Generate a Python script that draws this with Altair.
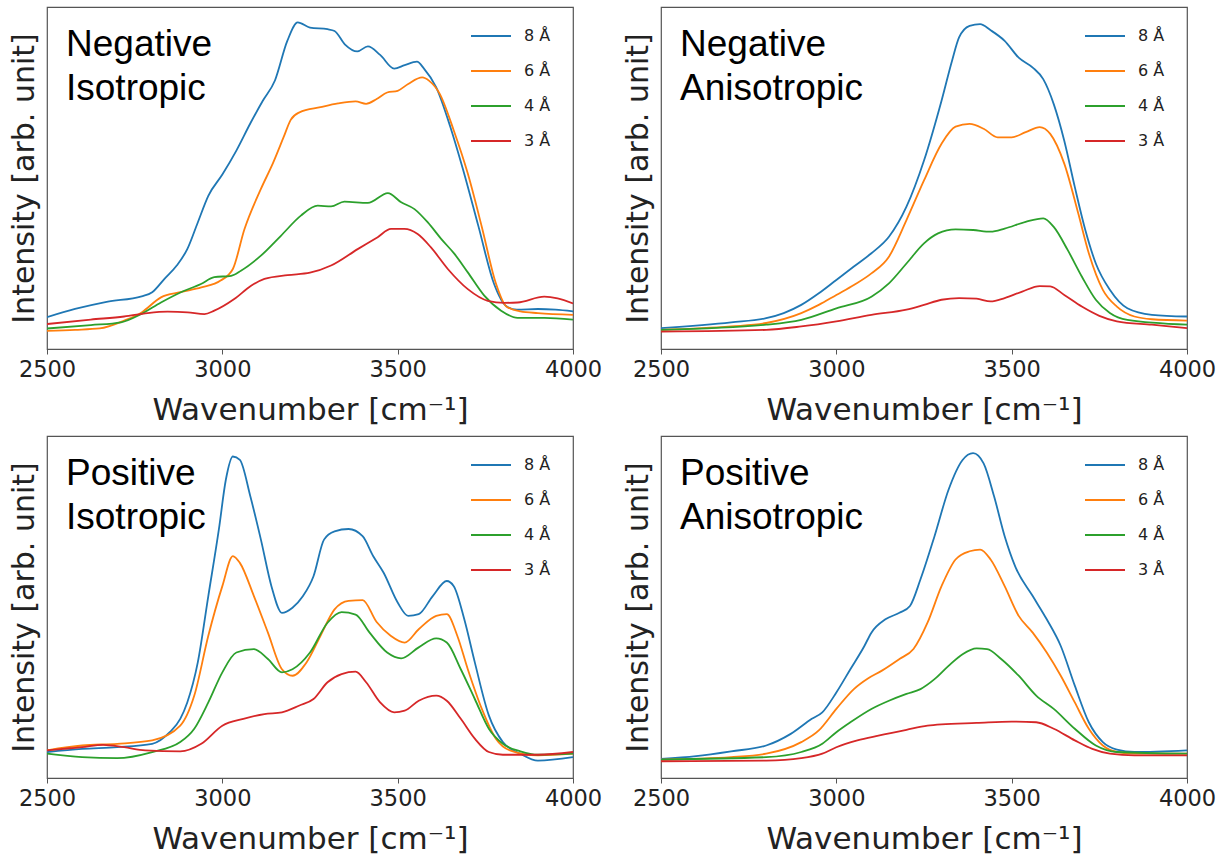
import altair as alt
import pandas as pd

SERIES = ["8 Å", "6 Å", "4 Å", "3 Å"]
COLORS = ["#1f77b4", "#ff7f0e", "#2ca02c", "#d62728"]
PANEL_LABELS = ["Negative\nIsotropic", "Negative\nAnisotropic",
                "Positive\nIsotropic", "Positive\nAnisotropic"]
X_TICKS = [2500, 3000, 3500, 4000]

# ---- Negative, isotropic ----
ni_8_x = [2500, 2580, 2670, 2770, 2800, 2835, 2870, 2900, 2930, 2960, 3000, 3040, 3080, 3115, 3150,
          3185, 3215, 3250, 3300, 3320, 3350, 3385, 3415, 3450, 3490, 3520, 3555, 3575, 3610, 3650,
          3685, 3730, 3775, 3810, 3840, 3900, 3950, 4000]
ni_8_y = [9.3, 11.7, 13.8, 15.4, 16.6, 20.5, 24.4, 29.2, 37, 44.8, 51, 58, 66, 72.5, 78.5,
          90, 95.5, 94, 93.5, 93, 89, 87, 88.5, 86, 82, 83, 84, 82, 76.5, 65,
          53, 36, 19, 12.5, 11.5, 11.7, 11.5, 11]
ni_6_x = [2500, 2580, 2650, 2720, 2770, 2825, 2880, 2940, 2995, 3030, 3063, 3110, 3145, 3175, 3195,
          3220, 3280, 3330, 3380, 3410, 3440, 3470, 3500, 3530, 3570, 3590, 3620, 3660, 3700, 3740,
          3780, 3810, 3850, 3900, 4000]
ni_6_y = [5.3, 5.6, 6.0, 8.3, 10.7, 15.1, 16.6, 18, 20, 23.4, 35, 46.8, 54.5, 62, 67,
          69.2, 70.7, 71.8, 72.4, 71.7, 73.1, 75, 75.5, 77.5, 79.4, 78.4, 74.6, 63.9, 51.3, 35.7,
          19.2, 12.4, 11, 10.5, 10]
ni_4_x = [2500, 2625, 2711, 2768, 2825, 2882, 2939, 2977, 3025, 3053, 3110, 3167, 3224, 3272, 3310,
          3348, 3415, 3472, 3510, 3548, 3586, 3624, 3662, 3700, 3747, 3795, 3842, 3918, 4000]
ni_4_y = [6.0, 7.0, 7.8, 10.2, 13.6, 16.6, 19, 21, 21.4, 22.9, 27.3, 33.1, 39, 41.9, 41.7,
          43.1, 42.7, 45.6, 42.9, 40.9, 37, 32.2, 27.8, 22.4, 15.6, 11.2, 9.1, 9.1, 8.6]
ni_3_x = [2500, 2625, 2720, 2787, 2844, 2901, 2949, 2977, 3034, 3082, 3120, 3186, 3250, 3310, 3386,
          3443, 3481, 3519, 3557, 3595, 3643, 3700, 3757, 3804, 3842, 3918, 3956, 4000]
ni_3_y = [7.3, 8.6, 9.5, 10.5, 10.9, 10.7, 10.2, 11.2, 14.6, 18.5, 20.5, 21.6, 22.3, 24.4, 29.2,
          32.7, 35.1, 35.1, 33.6, 29.7, 23.4, 17.5, 14.1, 13.5, 13.6, 15.3, 14.8, 13.3]

# ---- Negative, anisotropic ----
na_8_x = [2500, 2700, 2800, 2850, 2900, 2950, 3000, 3050, 3100, 3150, 3200, 3250, 3300, 3330, 3350,
          3380, 3410, 3440, 3480, 3520, 3560, 3590, 3620, 3650, 3680, 3710, 3740, 3780, 3830, 3900, 4000]
na_8_y = [6.1, 7.8, 9.0, 10.5, 12.9, 16.3, 20.2, 24.1, 28, 32.8, 41.6, 55.1, 72.6, 84.3, 91.1,
          94.5, 95, 93.2, 90.1, 85.2, 82.3, 78.9, 71.6, 60.9, 47.4, 34.8, 25, 17.3, 11.9, 10, 9.5]
na_6_x = [2500, 2700, 2800, 2900, 2950, 3000, 3050, 3100, 3150, 3200, 3250, 3300, 3340, 3380, 3420,
          3460, 3500, 3540, 3580, 3610, 3650, 3690, 3720, 3760, 3800, 3850, 3900, 4000]
na_6_y = [5.6, 6.6, 7.6, 10.5, 12.9, 15.8, 18.7, 22.1, 27, 37.7, 49.3, 60, 65, 65.8, 64.4,
          61.9, 61.9, 63.4, 64.9, 62.9, 54.2, 39.6, 28, 17.3, 12.4, 9.5, 8.7, 8.3]
na_4_x = [2500, 2800, 2900, 3000, 3100, 3150, 3200, 3250, 3290, 3340, 3390, 3440, 3480, 3540, 3590,
          3620, 3660, 3700, 3740, 3780, 3830, 4000]
na_4_y = [5.6, 7.1, 8.5, 11.9, 15.3, 19.2, 25, 30.9, 33.8, 35, 34.8, 34.3, 35.2, 37.2, 38.2,
          35.7, 28.9, 21.2, 14.4, 10.5, 8.5, 7.1]
na_3_x = [2500, 2800, 2900, 3000, 3100, 3200, 3250, 3300, 3350, 3400, 3440, 3480, 3530, 3580, 3610,
          3650, 3700, 3750, 3800, 3900, 4000]
na_3_y = [5.1, 5.6, 6.6, 8.1, 10, 11.5, 12.9, 14.4, 14.9, 14.7, 13.9, 14.9, 16.8, 18.4, 18.3,
          15.8, 12.4, 9.7, 8.1, 7.1, 6.1]

# ---- Positive, isotropic ----
pi_8_x = [2500, 2600, 2700, 2800, 2850, 2880, 2900, 2930, 2960, 2990, 3010, 3030, 3050, 3080, 3110,
          3140, 3170, 3200, 3230, 3260, 3290, 3320, 3360, 3400, 3430, 3460, 3500, 3530, 3560, 3600,
          3640, 3660, 3690, 3720, 3760, 3800, 3850, 3900, 4000]
pi_8_y = [7.6, 8.5, 9.0, 10, 13.4, 17.3, 22.1, 33.8, 53.2, 72.6, 87.2, 94, 93, 82.3, 69.7,
          56.1, 48.3, 49.8, 53.2, 59, 69.7, 72.1, 72.8, 70.7, 64.9, 60, 51.3, 47.4, 47.9, 53.2,
          57.6, 56.1, 46.4, 33.8, 18.3, 10.5, 7.1, 5.1, 6.1]
pi_6_x = [2500, 2600, 2700, 2800, 2880, 2920, 2960, 3000, 3030, 3050, 3090, 3130, 3170, 3200, 3240,
          3280, 3320, 3360, 3400, 3440, 3480, 3520, 3560, 3610, 3640, 3670, 3700, 3740, 3780, 3820,
          3900, 4000]
pi_6_y = [8.1, 9.5, 10, 11, 15.3, 24.1, 41.6, 56.1, 64.9, 62.9, 53.2, 42.5, 31.8, 29.9, 33.8,
          41.6, 49.3, 51.8, 52, 45.6, 41.6, 39.6, 43.5, 47.4, 47.9, 41.6, 31.8, 20.2, 11.5, 8.1,
          6.6, 7.1]
pi_4_x = [2500, 2600, 2700, 2800, 2880, 2920, 2960, 3000, 3040, 3090, 3130, 3170, 3200, 3250, 3300,
          3340, 3380, 3420, 3470, 3510, 3560, 3610, 3640, 3680, 3720, 3760, 3800, 3850, 3900, 4000]
pi_4_y = [7.1, 6.1, 5.8, 7.6, 10.5, 14.4, 22.1, 30.9, 36.7, 37.7, 34.8, 30.9, 31.8, 36.7, 45.4,
          48.5, 47.8, 42.5, 36.7, 35, 38.2, 40.8, 39.6, 31.8, 23.1, 14.4, 10, 7.8, 6.8, 7.1]
pi_3_x = [2500, 2600, 2660, 2720, 2780, 2880, 2940, 3000, 3060, 3120, 3170, 3220, 3260, 3300, 3340,
          3380, 3410, 3450, 3490, 3520, 3560, 3610, 3640, 3680, 3720, 3760, 3800, 3900, 4000]
pi_3_y = [8.1, 9.0, 9.7, 9.0, 8.1, 7.8, 10, 15.3, 17.3, 18.7, 19.2, 21.2, 23.1, 28, 30.4,
          31.1, 28, 22.1, 19.2, 19.7, 22.6, 24.1, 22.6, 17.3, 11.5, 7.6, 6.8, 6.8, 7.6]

# ---- Positive, anisotropic ----
pa_8_x = [2500, 2600, 2700, 2800, 2870, 2930, 2960, 3000, 3040, 3080, 3100, 3140, 3180, 3210, 3240,
          3280, 3320, 3360, 3390, 3420, 3450, 3480, 3510, 3560, 3600, 3640, 3680, 3720, 3760, 3800,
          3850, 4000]
pa_8_y = [5.6, 6.4, 7.8, 9.5, 12.9, 17.3, 19.2, 25, 31.8, 38.6, 42.5, 46.4, 48.3, 50.3, 58.1,
          70.7, 84.3, 93, 95, 92, 82.3, 70.7, 61.9, 53.2, 46.4, 38.6, 27, 16.3, 10.5, 8.3,
          7.6, 8.1]
pa_6_x = [2500, 2700, 2800, 2900, 2950, 3000, 3050, 3090, 3130, 3180, 3220, 3260, 3300, 3340, 3380,
          3410, 3440, 3480, 3520, 3560, 3600, 3640, 3680, 3720, 3760, 3800, 3850, 4000]
pa_6_y = [5.4, 6.1, 7.1, 10.5, 13.9, 20.2, 26, 29.1, 31.4, 34.8, 37.7, 45.4, 56.1, 63.9, 66.3,
          66.8, 63.9, 56.1, 47.4, 42.5, 36.7, 29.9, 22.1, 14.4, 9.5, 7.6, 7.1, 7.1]
pa_4_x = [2500, 2800, 2900, 2960, 3000, 3040, 3100, 3150, 3200, 3240, 3280, 3320, 3360, 3400, 3430,
          3470, 3520, 3570, 3620, 3680, 3740, 3800, 4000]
pa_4_y = [5.4, 6.1, 7.6, 10, 13.4, 16.3, 20.2, 22.6, 24.6, 26, 28.9, 32.8, 36.2, 37.9, 37.7,
          34.8, 29.9, 24.1, 20.2, 14.4, 9.5, 7.6, 7.1]
pa_3_x = [2500, 2800, 2900, 2960, 3000, 3060, 3120, 3200, 3260, 3300, 3400, 3500, 3570, 3620, 3680,
          3730, 3780, 3850, 4000]
pa_3_y = [4.9, 5.1, 5.8, 7.1, 9.0, 11, 12.4, 14.1, 15.3, 15.7, 16.1, 16.5, 16.3, 14.4, 11,
          8.5, 7.1, 6.6, 6.6]

PANELS = [
    [(ni_8_x, ni_8_y), (ni_6_x, ni_6_y), (ni_4_x, ni_4_y), (ni_3_x, ni_3_y)],
    [(na_8_x, na_8_y), (na_6_x, na_6_y), (na_4_x, na_4_y), (na_3_x, na_3_y)],
    [(pi_8_x, pi_8_y), (pi_6_x, pi_6_y), (pi_4_x, pi_4_y), (pi_3_x, pi_3_y)],
    [(pa_8_x, pa_8_y), (pa_6_x, pa_6_y), (pa_4_x, pa_4_y), (pa_3_x, pa_3_y)],
]

W, H = 526, 342
TITLE_FONT = "DejaVu Sans"


def panel(curves, label):
    rows = []
    for k, (xs, ys) in enumerate(curves):
        for xv, yv in zip(xs, ys):
            rows.append({"wn": xv, "intensity": yv, "series": SERIES[k], "k": k})
    df = pd.DataFrame(rows)

    lines = alt.Chart(df).mark_line(
        strokeWidth=1.8, interpolate="monotone", clip=True
    ).encode(
        x=alt.X("wn:Q",
                scale=alt.Scale(domain=[2500, 4000], nice=False, zero=False),
                axis=alt.Axis(values=X_TICKS, format="d", labelFlush=False,
                              title="Wavenumber [cm⁻¹]", grid=False, domain=False,
                              tickSize=5, tickColor="#555", labelPadding=4,
                              labelFont=TITLE_FONT, labelFontSize=22.5, labelColor="#222",
                              titleFont=TITLE_FONT, titleFontSize=31,
                              titleFontWeight="normal", titleColor="#222",
                              titlePadding=15)),
        y=alt.Y("intensity:Q",
                scale=alt.Scale(domain=[0, 100], nice=False, zero=True),
                axis=alt.Axis(labels=False, ticks=False, domain=False, grid=False,
                              title="Intensity [arb. unit]",
                              titleFont=TITLE_FONT, titleFontSize=30,
                              titleFontWeight="normal", titleColor="#222",
                              titlePadding=8)),
        color=alt.Color("series:N",
                        scale=alt.Scale(domain=SERIES, range=COLORS),
                        legend=alt.Legend(orient="none", legendX=423, legendY=8,
                                          title=None, symbolType="stroke",
                                          symbolStrokeWidth=2, symbolSize=1600,
                                          labelFont=TITLE_FONT, labelFontSize=16,
                                          labelColor="#222", labelOffset=12,
                                          rowPadding=6, padding=0)),
        detail="k:N",
    )

    text = alt.Chart(pd.DataFrame({"t": [label]})).mark_text(
        align="left", baseline="top", lineBreak="\n", lineHeight=44,
        font="Liberation Sans", fontSize=37, color="black"
    ).encode(x=alt.value(19), y=alt.value(20), text="t:N")

    return alt.layer(lines, text).properties(width=W, height=H)


charts = [panel(PANELS[i], PANEL_LABELS[i]) for i in range(4)]

chart = alt.concat(
    *charts, columns=2, spacing={"row": 87, "column": 88}, bounds="flush"
).resolve_scale(
    color="independent"
).resolve_legend(
    color="independent"
).properties(
    padding={"left": 8, "top": 6, "right": 5, "bottom": 2},
    background="white",
).configure_view(
    stroke="#555", strokeWidth=1.2
)

chart.save("out.html", embed_options={"renderer": "svg", "actions": False})
